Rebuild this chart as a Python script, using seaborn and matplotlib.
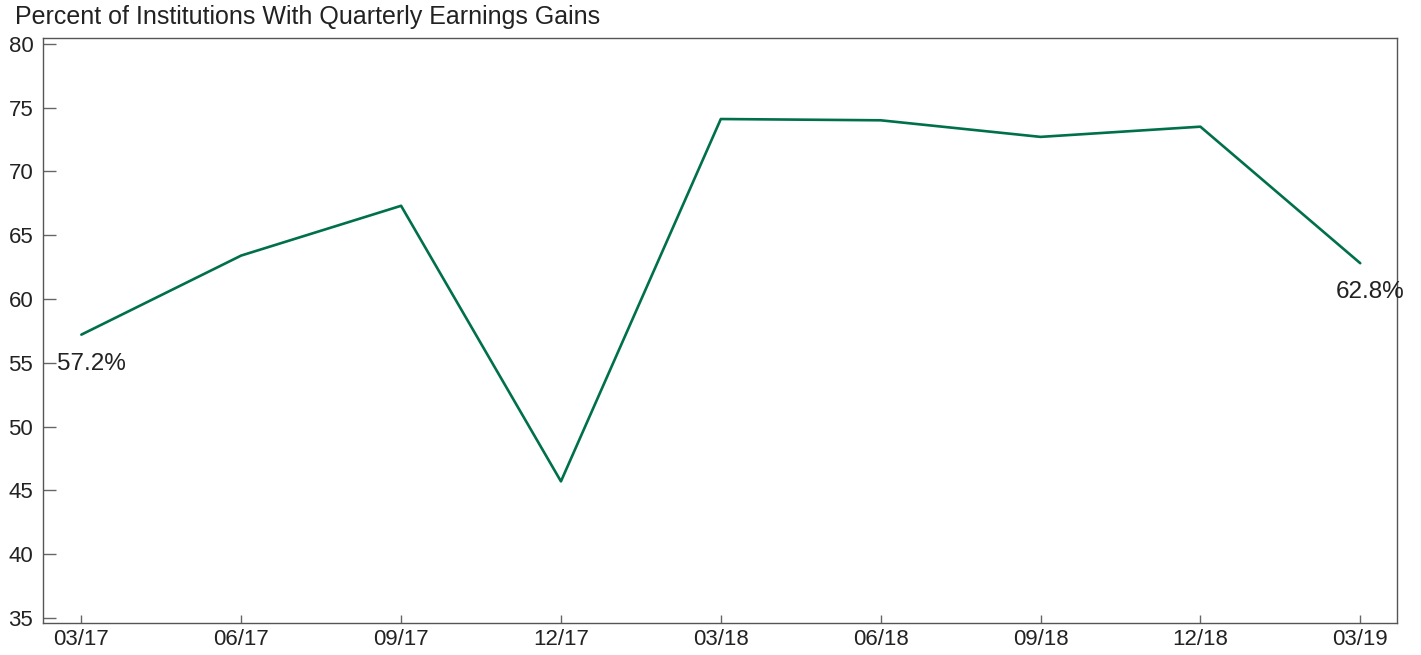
import seaborn as sns
import matplotlib.pyplot as plt
import pandas as pd

quarters = ["03/17", "06/17", "09/17", "12/17", "03/18", "06/18", "09/18", "12/18", "03/19"]
pct_gains = [57.2, 63.4, 67.3, 45.7, 74.1, 74.0, 72.7, 73.5, 62.8]

sns.set_style("white", {"xtick.bottom": True, "ytick.left": True})
plt.rcParams['font.family'] = ['Liberation Sans', 'DejaVu Sans']

df = pd.DataFrame({"quarter": quarters, "pct": pct_gains})
df["pos"] = range(len(df))

fig = plt.figure(figsize=(14.21, 6.55), dpi=100)
ax = fig.add_axes([43 / 1421, 1 - 623 / 655, (1397 - 43) / 1421, (623 - 38) / 655])

sns.lineplot(data=df, x="pos", y="pct", color="#00704A", linewidth=1.9, ax=ax)

ax.set_xlim(-0.24, 8.23)
ax.set_ylim(34.6, 80.45)
ax.set_xticks(df["pos"])
ax.set_xticklabels(quarters)
ax.set_yticks(range(35, 81, 5))
ax.set_xlabel("")
ax.set_ylabel("")
ax.tick_params(axis="y", left=True, direction="in", length=9, width=1, color="#666666",
               labelsize=16, pad=7, labelcolor="#222222")
ax.tick_params(axis="x", bottom=True, direction="in", length=6, width=1, color="#666666",
               labelsize=16, pad=4, labelcolor="#222222")
for s in ax.spines.values():
    s.set_color("#555555")
    s.set_linewidth(1)

# end-point labels
ax.annotate(f"{pct_gains[0]}%", (0, pct_gains[0]), xytext=(10, -29),
            textcoords="offset pixels", ha="center", va="center", fontsize=17.5, color="#222222")
ax.annotate(f"{pct_gains[-1]}%", (8, pct_gains[-1]), xytext=(10, -29),
            textcoords="offset pixels", ha="center", va="center", fontsize=17.5, color="#222222")

fig.text(15 / 1421, 1 - 5 / 655, "Percent of Institutions With Quarterly Earnings Gains",
         ha="left", va="top", fontsize=18, color="#222222")

fig.savefig("out.png", dpi=100)
